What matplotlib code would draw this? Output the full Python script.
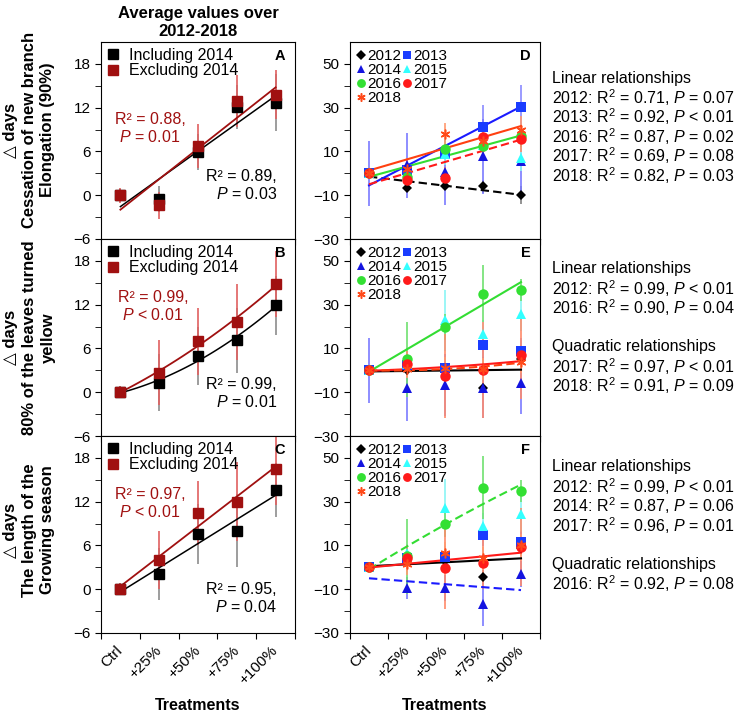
import numpy as np
import matplotlib
matplotlib.use("Agg")
import matplotlib.pyplot as plt

plt.rcParams['font.family'] = ['Liberation Sans', 'DejaVu Sans']
plt.rcParams['mathtext.fontset'] = 'custom'
plt.rcParams['mathtext.rm'] = 'Liberation Sans'
plt.rcParams['mathtext.it'] = 'Liberation Sans:italic'
plt.rcParams['mathtext.bf'] = 'Liberation Sans:bold'

# ---- data -------------------------------------------------------------
treatments = ['Ctrl', '+25%', '+50%', '+75%', '+100%']
years = ['2012', '2013', '2014', '2015', '2016', '2017', '2018']

# left column: averages over 2012-2018 (including / excluding 2014)
a_incl = [0, -0.5, 5.9, 12.1, 12.7]
a_incl_err = [0.8, 1.8, 2.5, 3.0, 3.9]
a_excl = [0, -1.4, 6.7, 12.9, 13.8]
a_excl_err = [1.0, 1.8, 3.0, 3.6, 3.4]

b_incl = [0, 1.3, 5.0, 7.1, 11.9]
b_incl_err = [0.8, 3.9, 4.0, 4.5, 4.0]
b_excl = [0, 2.7, 7.0, 9.6, 14.8]
b_excl_err = [0.8, 4.4, 4.6, 5.2, 4.5]

c_incl = [0, 2.1, 7.6, 8.0, 13.6]
c_incl_err = [0.8, 3.6, 4.1, 5.0, 3.7]
c_excl = [0, 4.0, 10.5, 12.0, 16.5]
c_excl_err = [0.8, 4.0, 4.4, 5.4, 5.0]

# right column: single years (rows follow `years`)
d_vals = [[0, -6.7, -5.6, -6.0, -9.8],
          [0, 1.5, 8.8, 21.2, 30.5],
          [0, 3.6, 0.5, 7.7, 5.5],
          [0, -1.0, 9.0, 13.0, 7.2],
          [0, -1.5, 11.1, 12.6, 17.2],
          [0, -3.2, -2.0, 16.5, 15.7],
          [0, 2.0, 18.0, 15.0, 20.0]]
d_errs = [[1, 2, 2, 3, 4],
          [0, 4, 5, 10, 10],
          [15, 15, 15, 17, 14],
          [2, 4, 5, 6, 6],
          [2, 6, 4, 5, 5],
          [2, 4, 5, 5, 6],
          [2, 5, 5, 6, 6]]

e_vals = [[0, 0, 1.0, -8.2, 5.2],
          [0, 2.4, 1.0, 11.8, 8.8],
          [0, -8.2, -6.7, -8.0, -5.9],
          [0, 3.0, 22.9, 16.8, 25.9],
          [0, 5.0, 19.8, 35.0, 36.8],
          [0, 2.9, -2.6, 0.2, 7.0],
          [0, 0.5, 1.0, 0.5, 3.6]]
e_errs = [[1, 2, 2, 3, 3],
          [0, 4, 5, 6, 6],
          [15, 15, 14, 14, 14],
          [2, 6, 14, 6, 8],
          [2, 17, 6, 13, 5],
          [2, 6, 19, 22, 20],
          [2, 4, 5, 5, 5]]

f_vals = [[0, 3.0, 3.0, -4.4, 8.7],
          [0, 4.4, 4.7, 14.6, 11.7],
          [0, -9.6, -9.3, -16.6, -3.2],
          [0, 6.5, 27.3, 18.9, 24.2],
          [0, 5.0, 19.7, 36.4, 34.9],
          [0, 4.4, -0.2, 2.1, 9.3],
          [0, 1.4, 6.7, 4.1, 10.0]]
f_errs = [[1, 2, 2, 3, 3],
          [1, 4, 5, 5, 5],
          [1, 5, 6, 10, 6],
          [1, 4, 13, 6, 8],
          [1, 17, 6, 14.5, 5],
          [1, 6, 19, 12, 18],
          [1, 5, 5, 5, 5]]

# fitted trend values:
# linear -> [Ctrl, +100%], quadratic -> [Ctrl, +50%, +100%]
d_fits = [('2012', [-1.5, -9.8], '--'),
          ('2013', [-5.5, 30.5], '-'),
          ('2016', [-1.6, 17.3], '-'),
          ('2017', [-5.0, 15.4], '--'),
          ('2018', [1.3, 21.6], '-')]
e_fits = [('2012', [-0.5, 0.3], '-'),
          ('2016', [-0.6, 40.3], '-'),
          ('2017', [-0.2, 1.5, 4.2], '-'),
          ('2018', [0.0, 0.6, 3.5], '--')]
f_fits = [('2012', [0.5, 4.1], '-'),
          ('2014', [-5.0, -10.4], '--'),
          ('2016', [-0.9, 19.5, 37.8], '--'),
          ('2017', [-0.1, 6.7], '-')]

d_notes = ['Linear relationships',
           '2012: R$^2$ = 0.71, $P$ = 0.07',
           '2013: R$^2$ = 0.92, $P$ < 0.01',
           '2016: R$^2$ = 0.87, $P$ = 0.02',
           '2017: R$^2$ = 0.69, $P$ = 0.08',
           '2018: R$^2$ = 0.82, $P$ = 0.03']
e_notes = ['Linear relationships',
           '2012: R$^2$ = 0.99, $P$ < 0.01',
           '2016: R$^2$ = 0.90, $P$ = 0.04',
           '',
           'Quadratic relationships',
           '2017: R$^2$ = 0.97, $P$ < 0.01',
           '2018: R$^2$ = 0.91, $P$ = 0.09']
f_notes = ['Linear relationships',
           '2012: R$^2$ = 0.99, $P$ < 0.01',
           '2014: R$^2$ = 0.87, $P$ = 0.06',
           '2017: R$^2$ = 0.96, $P$ = 0.01',
           '',
           'Quadratic relationships',
           '2016: R$^2$ = 0.92, $P$ = 0.08']

# ---- styles -----------------------------------------------------------
DARKRED = '#a01010'
year_style = {
    '2012': dict(marker='D', color='black', ms=5.5, err='#808080', line='black'),
    '2013': dict(marker='s', color='#1a3cff', ms=7, err='#8a8aff', line='#1a1aff'),
    '2014': dict(marker='^', color='#1414e0', ms=7.5, err='#7a7aff', line='#1a1aff'),
    '2015': dict(marker='^', color='#33ffff', ms=7.5, err='#8af5f5', line='#33ffff'),
    '2016': dict(marker='o', color='#33e033', ms=7.5, err='#70e070', line='#33dd33'),
    '2017': dict(marker='o', color='#ff1a1a', ms=7.5, err='#ff8a6a', line='#ff1a1a'),
    '2018': dict(marker=(6, 2, 0), color='#ff4a1a', ms=7, err='#ff9a70', line='#ff4010'),
}

x = np.arange(len(treatments)) + 0.5
xf = np.linspace(x[0], x[-1], 100)

fig = plt.figure(figsize=(7.38, 7.16), dpi=100)
top = 1 - 42 / 716
h = 197 / 716
left_axes = [fig.add_axes([101 / 738, top - h * (i + 1), 194 / 738, h]) for i in range(3)]
right_axes = [fig.add_axes([350 / 738, top - h * (i + 1), 190 / 738, h]) for i in range(3)]


def style_axis(ax, ylim, major, minor, show_x):
    ax.set_xlim(0, 5)
    ax.set_ylim(*ylim)
    ax.set_xticks(np.arange(6))
    ax.set_xticklabels([])
    ax.set_xticks(x, minor=True)
    ax.tick_params(axis='x', which='minor', length=0)
    if show_x:
        ax.set_xticklabels(treatments, minor=True, rotation=45, ha='right',
                           va='center', rotation_mode='anchor', fontsize=11)
        ax.tick_params(axis='x', which='minor', pad=11)
    ax.set_yticks(major)
    ax.set_yticks(minor, minor=True)
    ax.tick_params(axis='y', which='both', direction='out', length=4, labelsize=11)
    ax.tick_params(axis='x', which='major', direction='out', length=4)
    for s in ax.spines.values():
        s.set_linewidth(0.8)


# ---- left column ------------------------------------------------------
left_sets = [
    (a_incl, a_incl_err, a_excl, a_excl_err, 1, 'A',
     'R² = 0.88,\n$P$ = 0.01', 'R² = 0.89,\n$P$ = 0.03', (0.253, 0.56), (0.907, 0.273),
     'Cessation of new branch\nElongation (90%)', 0.553),
    (b_incl, b_incl_err, b_excl, b_excl_err, 2, 'B',
     'R² = 0.99,\n$P$ < 0.01', 'R² = 0.99,\n$P$ = 0.01', (0.268, 0.658), (0.907, 0.214),
     '80% of the leaves turned\nyellow', 0.50),
    (c_incl, c_incl_err, c_excl, c_excl_err, 1, 'C',
     'R² = 0.97,\n$P$ < 0.01', 'R² = 0.95,\n$P$ = 0.04', (0.253, 0.659), (0.907, 0.174),
     'The length of the\nGrowing season', 0.523),
]

for ax, (inc, inc_e, exc, exc_e, deg, letter, red_txt, blk_txt, red_pos, blk_pos, ylab, ly) in zip(left_axes, left_sets):
    style_axis(ax, (-6, 21), [-6, 0, 6, 12, 18], [-3, 3, 9, 15], letter == 'C')
    ax.errorbar(x, inc, yerr=inc_e, fmt='none', ecolor='#8c8c8c', elinewidth=1.2, zorder=1)
    ax.errorbar(x, exc, yerr=exc_e, fmt='none', ecolor='#e06060', elinewidth=1.2, zorder=1)
    ax.plot(xf, np.polyval(np.polyfit(x, inc, deg), xf), color='black', lw=1.1, zorder=2)
    ax.plot(xf, np.polyval(np.polyfit(x, exc, deg), xf), color=DARKRED, lw=1.3, zorder=2)
    h1, = ax.plot(x, inc, ls='none', marker='s', ms=7.5, color='black', zorder=3)
    h2, = ax.plot(x, exc, ls='none', marker='s', ms=7.5, color=DARKRED, zorder=4)
    ax.legend([h1, h2], ['Including 2014', 'Excluding 2014'], loc='upper left',
              frameon=False, fontsize=11.5, handlelength=0.8, handletextpad=0.6,
              labelspacing=0.05, borderaxespad=0.15, borderpad=0.2)
    ax.text(0.95, 0.93, letter, transform=ax.transAxes, ha='right', va='center',
            fontsize=10.5, fontweight='bold')
    ax.text(*red_pos, red_txt, transform=ax.transAxes, ha='center', va='center',
            color=DARKRED, fontsize=11.5, linespacing=1.15)
    ax.text(*blk_pos, blk_txt, transform=ax.transAxes, ha='right', va='center',
            color='black', fontsize=11.5, multialignment='right', linespacing=1.15)
    ax.set_ylabel('△ days\n' + ylab, fontsize=12, fontweight='bold', linespacing=1.3)
    ax.yaxis.set_label_coords(-0.235, ly)

left_axes[0].set_title('Average values over\n2012-2018', fontsize=12, fontweight='bold',
                       pad=4, linespacing=1.25)
left_axes[2].set_xlabel('Treatments', fontsize=11.5, fontweight='bold', labelpad=8)

# ---- right column -----------------------------------------------------
right_sets = [(d_vals, d_errs, d_fits, 'D'), (e_vals, e_errs, e_fits, 'E'),
              (f_vals, f_errs, f_fits, 'F')]

for ax, (vals, errs, fits, letter) in zip(right_axes, right_sets):
    style_axis(ax, (-30, 60), [-30, -10, 10, 30, 50], [-20, 0, 20, 40], letter == 'F')
    for yr, v, e in zip(years, vals, errs):
        st = year_style[yr]
        ax.errorbar(x, v, yerr=e, fmt='none', ecolor=st['err'], elinewidth=1.2, zorder=1)
    for yr, pts, ls in fits:
        st = year_style[yr]
        if len(pts) == 2:
            px = [x[0], x[-1]]
        else:
            px = [x[0], x[2], x[-1]]
        coef = np.polyfit(px, pts, len(pts) - 1)
        ax.plot(xf, np.polyval(coef, xf), color=st['line'], lw=1.5, ls=ls,
                dashes=(4, 2) if ls == '--' else (None, None), zorder=2)
    handles = []
    for yr, v in zip(years, vals):
        st = year_style[yr]
        if yr == '2018':
            hh, = ax.plot(x, v, ls='none', marker=st['marker'], ms=st['ms'],
                          markeredgecolor=st['color'], markeredgewidth=1.1, zorder=3)
        else:
            hh, = ax.plot(x, v, ls='none', marker=st['marker'], ms=st['ms'],
                          color=st['color'], markeredgewidth=0, zorder=3)
        handles.append(hh)
    order = [0, 2, 4, 6, 1, 3, 5]
    ax.legend([handles[i] for i in order], [years[i] for i in order], ncol=2,
              loc='upper left', frameon=False, fontsize=11, handlelength=0.55,
              handletextpad=0.1, columnspacing=0.15, labelspacing=0.0,
              borderaxespad=0.2, borderpad=0.25, markerscale=0.85)
    ax.text(0.95, 0.93, letter, transform=ax.transAxes, ha='right', va='center',
            fontsize=10.5, fontweight='bold')

right_axes[2].set_xlabel('Treatments', fontsize=11.5, fontweight='bold', labelpad=8)

# ---- notes on the right ------------------------------------------------
for notes, y0 in [(d_notes, 78), (e_notes, 269), (f_notes, 467)]:
    for i, line in enumerate(notes):
        if line:
            fig.text(552 / 738, 1 - (y0 + i * 19.5) / 716, line, ha='left', va='center',
                     fontsize=11.5)

fig.savefig('out.png', dpi=100)
